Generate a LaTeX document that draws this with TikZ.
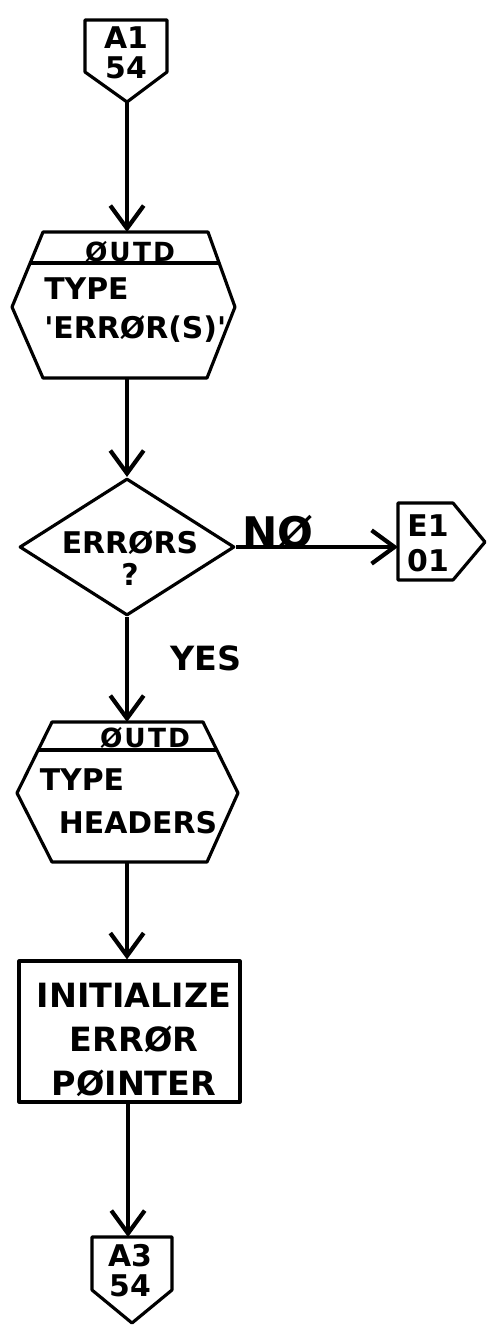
\documentclass[tikz,border=0pt]{standalone}
\usepackage{fontspec}
\setmainfont{DejaVu Sans}
\usetikzlibrary{arrows.meta,shapes.geometric}
\begin{document}
\begin{tikzpicture}[x=0.02cm, y=-0.02cm,
  hand/.style 2 args={font=\fontsize{#1}{#2}\selectfont\bfseries, inner sep=0pt},
  outline/.style={draw=black, line width=1.8pt, line join=round},
  flow/.style={line width=2.4pt, -{Straight Barb[length=13pt,width=19pt]}},
  decision/.style={outline, diamond, minimum width=4.3cm, minimum height=2.74cm, inner sep=0pt},
  process/.style={outline, rectangle, minimum width=4.42cm, minimum height=2.82cm, inner sep=0pt}]
\useasboundingbox (0,0) rectangle (492,1332);
% entry connector
\draw[outline] (85,20) -- (167,20) -- (167,72) -- (127,102) -- (85,72) -- cycle;
\node[hand={17pt}{17pt}, align=center] (a1txt) at (126,53) {A1\\54};
\coordinate (a1) at (127,102);
% output 'errors'
\draw[outline] (43,232) -- (208,232) -- (235,307) -- (207,378) -- (43,378) -- (12,307) -- cycle;
\draw[outline] (30,263) -- (219,263);
\node[hand={15pt}{15pt}] (outdA) at (130,252) {\addfontfeature{LetterSpace=8}ØUTD};
\node[hand={17pt}{22pt}, align=left, anchor=west] (typeA) at (44,310) {TYPE\\\textquotesingle ERRØR(S)\textquotesingle};
\coordinate (hexAin) at (127,232);
\coordinate (hexAout) at (127,378);
% test
\node[decision] (errq) at (127,547) {};
\node[hand={17pt}{18pt}, align=center] (errqtxt) at (130,558) {ERRØRS\\?};
\node[hand={24pt}{24pt}] (notxt) at (278,532) {NØ};
\node[hand={19pt}{19pt}] (yestxt) at (206,658) {YES};
% exit connector
\draw[outline] (398,503) -- (453,503) -- (485,542) -- (453,580) -- (398,580) -- cycle;
\node[hand={17pt}{20pt}, align=center] (e1txt) at (428,543) {E1\\01};
\coordinate (e1in) at (398,547);
% output headers
\draw[outline] (52,722) -- (203,722) -- (238,793) -- (207,862) -- (52,862) -- (17,793) -- cycle;
\draw[outline] (38,750) -- (217,750);
\node[hand={15pt}{15pt}] (outdB) at (145,738) {\addfontfeature{LetterSpace=8}ØUTD};
\node[hand={17pt}{17pt}] (typeB) at (82,780) {TYPE};
\node[hand={17pt}{17pt}] (headB) at (138,823) {HEADERS};
\coordinate (hexBin) at (127,722);
\coordinate (hexBout) at (127,862);
% pointer set-up
\node[process] (initp) at (129.5,1031.5) {};
\node[hand={19pt}{25pt}, align=center] (inittxt) at (134,1040) {INITIALIZE\\ERRØR\\PØINTER};
% next connector
\draw[outline] (92,1237) -- (172,1237) -- (172,1290) -- (132,1323) -- (92,1290) -- cycle;
\node[hand={17pt}{17pt}, align=center] (a3txt) at (130,1271) {A3\\54};
\coordinate (a3) at (128,1237);
% flow lines
\draw[flow] (a1) -- (hexAin);
\draw[flow] (hexAout) -- (errq.north);
\draw[flow] (errq.east) -- (e1in);
\draw[flow] (errq.south) -- (hexBin);
\draw[flow] (hexBout) -- (hexBout |- initp.north);
\draw[flow] (a3 |- initp.south) -- (a3);
\end{tikzpicture}
\end{document}
